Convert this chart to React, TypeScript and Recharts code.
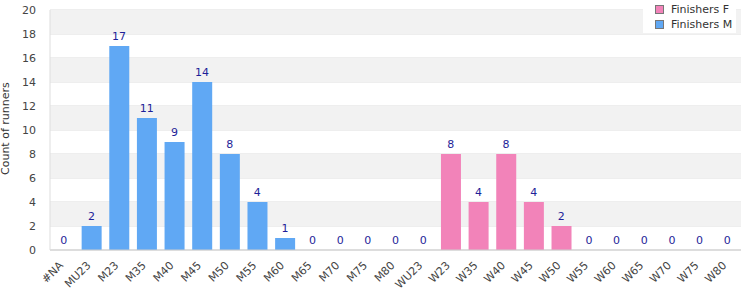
import { ComposedChart, Bar, Line, XAxis, YAxis, CartesianGrid, LabelList, ReferenceArea } from "recharts";

const categories = ["#NA", "MU23", "M23", "M35", "M40", "M45", "M50", "M55", "M60", "M65", "M70", "M75", "M80", "WU23", "W23", "W35", "W40", "W45", "W50", "W55", "W60", "W65", "W70", "W75", "W80"];
const finishersF = [0, 0, 0, 0, 0, 0, 0, 0, 0, 0, 0, 0, 0, 0, 8, 4, 8, 4, 2, 0, 0, 0, 0, 0, 0];
const finishersM = [0, 2, 17, 11, 9, 14, 8, 4, 1, 0, 0, 0, 0, 0, 0, 0, 0, 0, 0, 0, 0, 0, 0, 0, 0];
const yTicks = [0, 2, 4, 6, 8, 10, 12, 14, 16, 18, 20];
const grayBands = [[2, 4], [6, 8], [10, 12], [14, 16], [18, 20]];

const PINK = "#f283b9";
const BLUE = "#60a8f4";
const FONT = "'DejaVu Sans', Verdana, sans-serif";

const data = categories.map((c, i) => ({ cat: c, F: finishersF[i], M: finishersM[i], total: finishersF[i] + finishersM[i] }));

function XTick({ x, y, payload }: any) {
  return (
    <text x={x} y={y} dy={8} textAnchor="end" fill="#444" fontSize={11} fontFamily={FONT} transform={`rotate(-45 ${x} ${y + 8})`}>
      {payload.value}
    </text>
  );
}

function LegendBox() {
  const items = [
    { name: "Finishers F", color: PINK },
    { name: "Finishers M", color: BLUE },
  ];
  return (
    <div style={{ position: "absolute", top: 0, left: 643, background: "#fff", width: 93, height: 33, fontFamily: FONT, fontSize: 11, color: "#333" }}>
      {items.map((it, i) => (
        <div key={it.name} style={{ display: "flex", alignItems: "center", height: 15, paddingTop: i === 0 ? 2 : 0, paddingLeft: 12 }}>
          <span style={{ display: "inline-block", width: 7, height: 7, background: it.color, border: "1px solid #777", marginRight: 7 }} />
          {it.name}
        </div>
      ))}
    </div>
  );
}

export default function App() {
  return (
    <div style={{ position: "absolute", left: 0, top: 0, width: 750, height: 300, background: "#fff" }}>
      <ComposedChart width={750} height={300} data={data} margin={{ top: 10, right: 9, left: 0, bottom: 0 }} barSize={20}>
        {grayBands.map(([a, b]) => (
          <ReferenceArea key={a} y1={a} y2={b} fill="#f2f2f2" fillOpacity={1} stroke="none" ifOverflow="hidden" />
        ))}
        <CartesianGrid vertical={false} stroke="#dddddd" />
        <XAxis dataKey="cat" interval={0} tickLine={false} axisLine={{ stroke: "#cccccc" }} height={50} tick={<XTick />} />
        <YAxis
          domain={[0, 20]}
          ticks={yTicks}
          width={50}
          tickLine={false}
          axisLine={{ stroke: "#dddddd" }}
          tick={{ fontSize: 11, fill: "#444", fontFamily: FONT }}
          tickMargin={8}
          label={{ value: "Count of runners", angle: -90, position: "insideLeft", dx: 0, dy: 45, style: { fontSize: 11, fill: "#333", fontFamily: FONT } }}
        />
        <YAxis yAxisId="r" orientation="right" width={0} tick={false} tickLine={false} axisLine={{ stroke: "#dddddd" }} domain={[0, 20]} />
        <Bar dataKey="F" stackId="a" fill={PINK} isAnimationActive={false} />
        <Bar dataKey="M" stackId="a" fill={BLUE} isAnimationActive={false} />
        <Line dataKey="total" stroke="none" dot={false} activeDot={false} isAnimationActive={false}>
          <LabelList dataKey="total" position="top" offset={6} fill="#1f1f99" fontSize={11} fontFamily={FONT} />
        </Line>
      </ComposedChart>
      <LegendBox />
    </div>
  );
}
